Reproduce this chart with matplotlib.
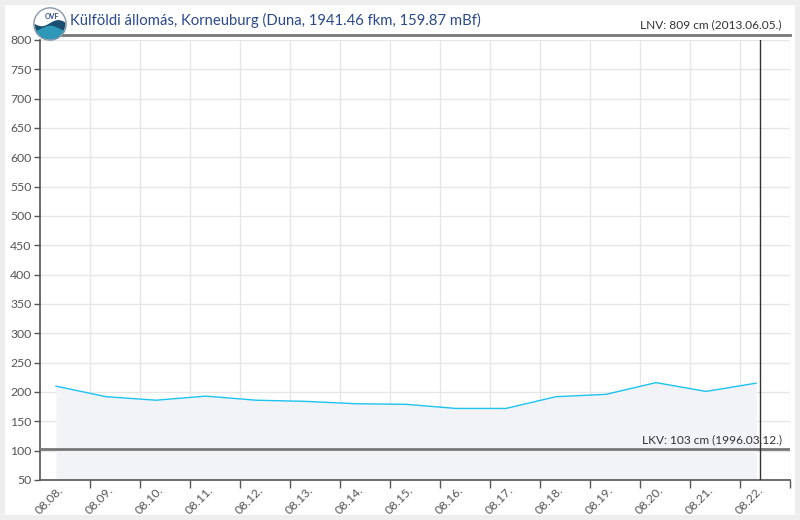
import matplotlib
matplotlib.use("Agg")
import matplotlib.pyplot as plt
import numpy as np
from matplotlib.patches import Rectangle, Circle, Polygon

plt.rcParams['font.family'] = ['Lato', 'DejaVu Sans']

dates = ["08.08.", "08.09.", "08.10.", "08.11.", "08.12.", "08.13.", "08.14.", "08.15.",
         "08.16.", "08.17.", "08.18.", "08.19.", "08.20.", "08.21.", "08.22."]
levels = [210, 192, 186, 193, 186, 184, 180, 179, 172, 172, 192, 196, 216, 201, 215]
lnv_value = 809
lnv_label = "LNV: 809 cm (2013.06.05.)"
lkv_value = 103
lkv_label = "LKV: 103 cm (1996.03.12.)"
title = "Külföldi állomás, Korneuburg (Duna, 1941.46 fkm, 159.87 mBf)"
yticks = list(range(50, 801, 50))
now_pos = 14.08

W, H = 800, 520
fig = plt.figure(figsize=(8, 5.2), dpi=100, facecolor="#eeeeee")
fig.patches.append(Rectangle((5 / W, 5 / H), 790 / W, 510 / H, transform=fig.transFigure,
                             facecolor="white", edgecolor="none", zorder=-10))

ax = fig.add_axes([40 / W, 40 / H, 750 / W, 440 / H])
ax.set_facecolor("none")
x = np.arange(len(dates))
ax.set_xlim(-0.32, 14.68)
ax.set_ylim(50, 800)

ax.fill_between(x, levels, 50, color="#f2f3f7", zorder=1, linewidth=0)
ax.plot(x, levels, color="#1cc2f0", linewidth=1.0, zorder=3)

# grid
ax.set_yticks(yticks)
ax.set_yticklabels([str(v) for v in yticks])
grid_x = x + 0.68
ax.set_xticks(grid_x)
ax.set_xticklabels([""] * len(grid_x))
ax.set_xticks(x + 0.1, minor=True)
ax.set_xticklabels(dates, minor=True, rotation=45, ha="right", va="center",
                   rotation_mode="anchor")
ax.tick_params(axis="x", which="minor", length=0, pad=5.8, labelsize=8.8, labelcolor="#555555")
ax.tick_params(axis="x", which="major", length=6, width=1, color="#555555", direction="out")
ax.tick_params(axis="y", length=4, width=1, color="#555555", labelsize=8.8,
               labelcolor="#555555", pad=2)
for gx in grid_x:
    ax.axvline(gx, color="#e6e6e6", linewidth=1, zorder=0.5)
for gy in yticks:
    ax.axhline(gy, color="#e6e6e6", linewidth=1, zorder=0.5)

for s in ["top", "right"]:
    ax.spines[s].set_visible(False)
for s in ["left", "bottom"]:
    ax.spines[s].set_color("#555555")
    ax.spines[s].set_linewidth(1.2)

# threshold lines
ax.axhline(lnv_value, color="#777777", linewidth=2, clip_on=False, zorder=4)
ax.axhline(lkv_value, color="#777777", linewidth=2, zorder=4)
ax.text(14.52, lnv_value + 7, lnv_label, ha="right", va="bottom", fontsize=8.6,
        color="#333333", clip_on=False)
ax.text(14.52, lkv_value + 7, lkv_label, ha="right", va="bottom", fontsize=8.6,
        color="#333333")
ax.axvline(now_pos, color="#333333", linewidth=1, zorder=5)

# title
fig.text(70 / W, 1 - 20 / H, title, ha="left", va="center", fontsize=10.75, color="#2a4a8c")

# logo
lax = fig.add_axes([33 / W, 1 - 41 / H, 34 / W, 34 / H])
lax.set_xlim(-1, 1)
lax.set_ylim(-1, 1)
lax.set_aspect("equal")
lax.axis("off")
lax.add_patch(Circle((0, 0), 0.95, facecolor="white", edgecolor="#8a9aa8", linewidth=1))
t = np.linspace(-1, 1, 50)
wave = 0.05 + 0.18 * np.sin(t * 3.2)
pts = [(tx, wy) for tx, wy in zip(t, wave)] + [(1, -1), (-1, -1)]
clip = Circle((0, 0), 0.9, transform=lax.transData)
p = Polygon(pts, closed=True, facecolor="#1b4f72", edgecolor="none")
p.set_clip_path(clip)
lax.add_patch(p)
wave2 = -0.25 + 0.15 * np.sin(t * 3.2 + 1.5)
pts2 = [(tx, wy) for tx, wy in zip(t, wave2)] + [(1, -1), (-1, -1)]
p2 = Polygon(pts2, closed=True, facecolor="#2f97b8", edgecolor="none")
clip2 = Circle((0, 0), 0.9, transform=lax.transData)
p2.set_clip_path(clip2)
lax.add_patch(p2)
lax.text(0.1, 0.45, "OVF", ha="center", va="center", fontsize=5, color="#2a4a8c",
         fontweight="bold")

fig.savefig("out.png", dpi=100, facecolor=fig.get_facecolor())
